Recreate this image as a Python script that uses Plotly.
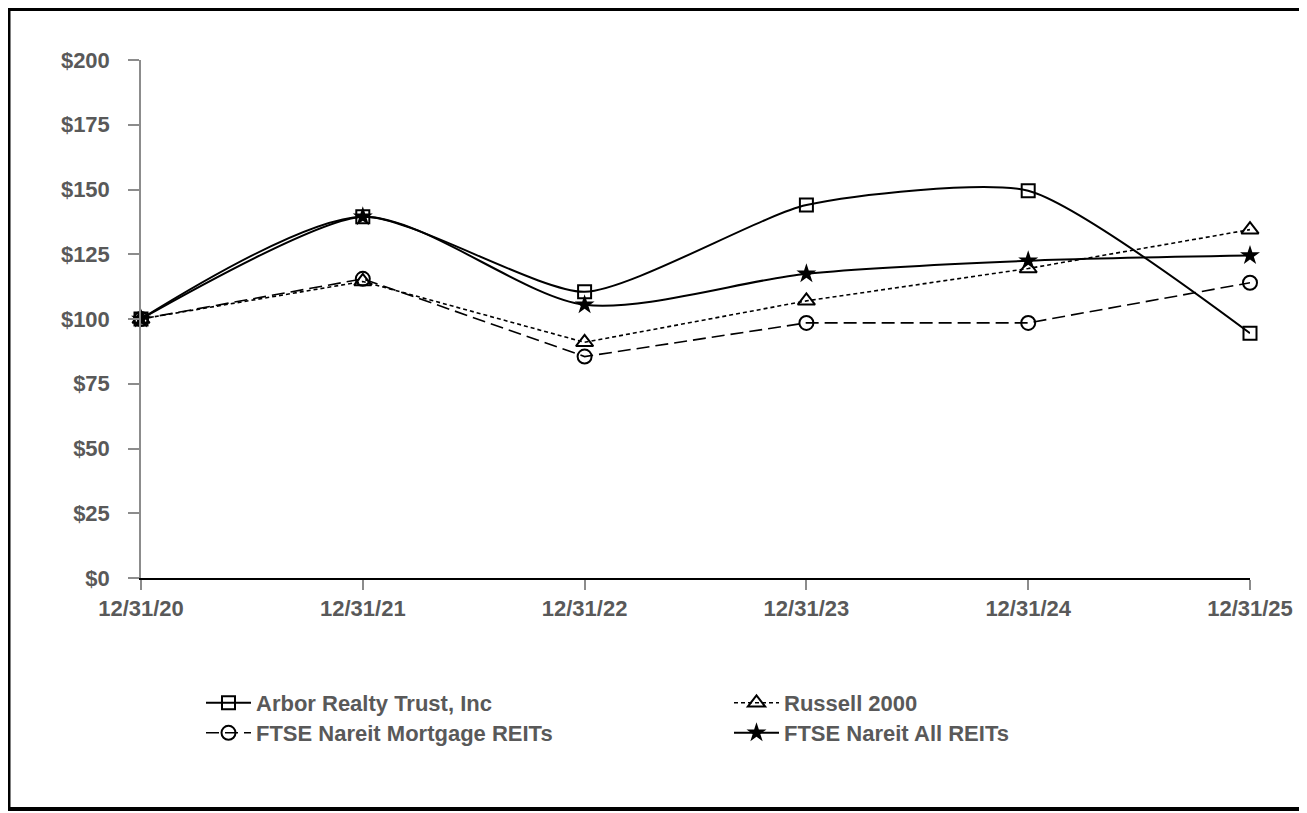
import plotly.graph_objects as go

categories = ["12/31/20", "12/31/21", "12/31/22", "12/31/23", "12/31/24", "12/31/25"]
arbor = [100, 139.5, 110.5, 144, 149.5, 94.5]
russell = [100, 114.5, 91, 107, 119.5, 134.5]
mortgage = [100, 115.5, 85.5, 98.5, 98.5, 114]
all_reits = [100, 139.5, 105.5, 117.5, 122.5, 124.5]
y_ticks = [0, 25, 50, 75, 100, 125, 150, 175, 200]
y_tick_labels = ["$0", "$25", "$50", "$75", "$100", "$125", "$150", "$175", "$200"]

GRAY = "#595959"
FONT = "Liberation Sans"

fig = go.Figure()

fig.add_trace(go.Scatter(
    x=categories, y=arbor, name="<b>Arbor Realty Trust, Inc</b>", mode="lines+markers",
    line=dict(color="black", width=2, shape="spline", smoothing=0.6),
    marker=dict(symbol="square-open", size=13, color="black", line=dict(width=2)),
    cliponaxis=False, legend="legend"))
fig.add_trace(go.Scatter(
    x=categories, y=russell, name="<b>Russell 2000</b>", mode="lines+markers",
    line=dict(color="black", width=1.6, dash="4px,3px"),
    marker=dict(symbol="triangle-up-open", size=15, color="black", line=dict(width=2)),
    cliponaxis=False, legend="legend"))
fig.add_trace(go.Scatter(
    x=categories, y=mortgage, name="<b>FTSE Nareit Mortgage REITs</b>", mode="lines+markers",
    line=dict(color="black", width=1.6, dash="13px,6px"),
    marker=dict(symbol="circle-open", size=14, color="black", line=dict(width=2)),
    cliponaxis=False, legend="legend2"))
fig.add_trace(go.Scatter(
    x=categories, y=all_reits, name="<b>FTSE Nareit All REITs</b>", mode="lines+markers",
    line=dict(color="black", width=2, shape="spline", smoothing=0.8),
    marker=dict(symbol="star", size=15, color="black"),
    cliponaxis=False, legend="legend2"))

legend_common = dict(
    orientation="h", xanchor="left", yanchor="middle",
    font=dict(family=FONT, size=22, color=GRAY),
    entrywidth=468, entrywidthmode="pixels", itemwidth=45,
    bgcolor="rgba(0,0,0,0)", traceorder="normal",
)

fig.update_layout(
    width=1307, height=813,
    margin=dict(l=133, r=65, t=52, b=243),
    paper_bgcolor="white", plot_bgcolor="white",
    font=dict(family=FONT, size=22, color=GRAY),
    showlegend=True,
    legend=dict(x=0.0541, y=-0.2413, **legend_common),
    legend2=dict(x=0.0541, y=-0.2992, **legend_common),
    xaxis=dict(
        type="category", range=[0, 5], showgrid=False, zeroline=False,
        showline=True, linecolor="black", linewidth=2,
        ticks="outside", ticklen=10, tickcolor="#8c8c8c", tickwidth=1.5,
        tickfont=dict(family=FONT, size=22, color=GRAY, weight="bold"),
    ),
    yaxis=dict(
        range=[0, 200], tickmode="array", tickvals=y_ticks, ticktext=y_tick_labels,
        showgrid=False, zeroline=False,
        showline=True, linecolor="#8c8c8c", linewidth=1.5,
        ticks="outside", ticklen=11, tickcolor="#8c8c8c", tickwidth=1.5,
        ticklabelstandoff=14,
        tickfont=dict(family=FONT, size=22, color=GRAY, weight="bold"),
    ),
    shapes=[dict(type="rect", xref="paper", yref="paper",
                 x0=-0.11948, x1=1.04599, y0=-0.44595, y1=1.09846,
                 line=dict(color="black", width=4), layer="above")],
)

fig.write_html("out.html")
